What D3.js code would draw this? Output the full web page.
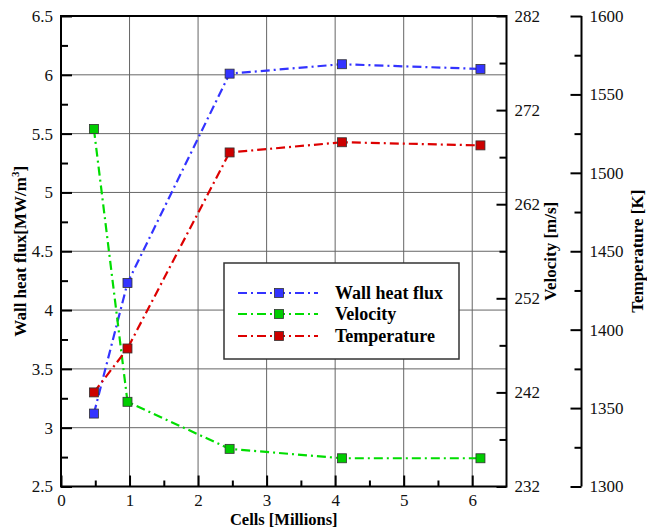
<!DOCTYPE html>
<html>
<head>
<meta charset="utf-8">
<script src="https://cdn.jsdelivr.net/npm/d3@7"></script>
<style>
  body { margin: 0; background: #fff; }
  svg text { font-family: "Liberation Serif", "Times New Roman", serif; }
</style>
</head>
<body>
<div id="chart"></div>
<script>
// values
const cells = [0.48, 0.97, 2.46, 4.10, 6.12];
const heatFlux = [3.12, 4.23, 6.01, 6.09, 6.05];
const velocity = [270.0, 241.0, 236.0, 235.0, 235.0];
const temperature = [1360, 1388, 1513, 1519.5, 1517.5];
const seriesNames = ["Wall heat flux", "Velocity", "Temperature"];
const lineColors = ["#3333ff", "#00dd00", "#dd0000"];
const markColors = ["#3333ff", "#00cc00", "#cc0000"];

const width = 647, height = 528;
const plotL = 61, plotR = 506.5, plotT = 16, plotB = 486.5;
const tempAxisX = 581.5;
const serif = "Liberation Serif, Times New Roman, serif";

const svg = d3.select("#chart").append("svg")
    .attr("width", width)
    .attr("height", height)
    .attr("font-family", serif);

const x = d3.scaleLinear().domain([0, 6.5]).range([plotL, plotR]);
const yL = d3.scaleLinear().domain([2.5, 6.5]).range([plotB, plotT]);
const yV = d3.scaleLinear().domain([232, 282]).range([plotB, plotT]);
const yT = d3.scaleLinear().domain([1300, 1600]).range([plotB, plotT]);

// grid
const grid = svg.append("g").attr("stroke", "#666").attr("stroke-width", 1);
grid.selectAll("line.gx")
    .data(d3.range(1, 7))
    .join("line")
    .attr("x1", d => x(d)).attr("x2", d => x(d))
    .attr("y1", plotT).attr("y2", plotB);
grid.selectAll("line.gy")
    .data(d3.range(3, 6.01, 0.5))
    .join("line")
    .attr("x1", plotL).attr("x2", plotR)
    .attr("y1", d => yL(d)).attr("y2", d => yL(d));

function styleAxis(g) {
    g.attr("font-family", serif).attr("font-size", 17);
    g.select(".domain").remove();
    g.selectAll(".tick line").attr("stroke", "#000").attr("stroke-width", 2);
    g.selectAll(".tick text").attr("fill", "#111");
}

const fmt = d => String(+d.toFixed(2));

// x axis
svg.append("g").attr("transform", `translate(0,${plotB})`)
    .call(d3.axisBottom(x).tickValues(d3.range(0, 6.01, 1)).tickSize(-11).tickPadding(7).tickFormat(fmt))
    .call(styleAxis);
svg.append("g").attr("transform", `translate(0,${plotB})`)
    .call(d3.axisBottom(x).tickValues(d3.range(0.5, 6.01, 1)).tickSize(-6).tickFormat(""))
    .call(styleAxis);

// left axis
svg.append("g").attr("transform", `translate(${plotL},0)`)
    .call(d3.axisLeft(yL).tickValues(d3.range(2.5, 6.51, 0.5)).tickSize(-11).tickPadding(8).tickFormat(fmt))
    .call(styleAxis);
svg.append("g").attr("transform", `translate(${plotL},0)`)
    .call(d3.axisLeft(yL).tickValues(d3.range(2.75, 6.5, 0.5)).tickSize(-7).tickFormat(""))
    .call(styleAxis);

// velocity axis (right of plot)
svg.append("g").attr("transform", `translate(${plotR},0)`)
    .call(d3.axisRight(yV).tickValues(d3.range(232, 282.1, 10)).tickSize(-10).tickPadding(8).tickFormat(fmt))
    .call(styleAxis);
svg.append("g").attr("transform", `translate(${plotR},0)`)
    .call(d3.axisRight(yV).tickValues(d3.range(237, 282, 10)).tickSize(-7).tickFormat(""))
    .call(styleAxis);

// temperature axis (offset)
svg.append("g").attr("transform", `translate(${tempAxisX},0)`)
    .call(d3.axisRight(yT).tickValues(d3.range(1300, 1600.1, 50)).tickSize(-11).tickPadding(8).tickFormat(fmt))
    .call(styleAxis);
svg.append("g").attr("transform", `translate(${tempAxisX},0)`)
    .call(d3.axisRight(yT).tickValues(d3.range(1325, 1600, 50)).tickSize(-7).tickFormat(""))
    .call(styleAxis);
svg.append("line")
    .attr("x1", tempAxisX).attr("x2", tempAxisX)
    .attr("y1", plotT).attr("y2", plotB)
    .attr("stroke", "#000").attr("stroke-width", 2);

// frame
svg.append("rect")
    .attr("x", plotL).attr("y", plotT)
    .attr("width", plotR - plotL).attr("height", plotB - plotT)
    .attr("fill", "none").attr("stroke", "#000").attr("stroke-width", 2);

// series
const series = [
    { vals: heatFlux, y: yL },
    { vals: velocity, y: yV },
    { vals: temperature, y: yT }
];
const dash = "9,4,2,4";
const plot = svg.append("g");
series.forEach((s, i) => {
    const pts = cells.map((c, j) => [x(c), s.y(s.vals[j])]);
    plot.append("path")
        .attr("d", d3.line()(pts))
        .attr("fill", "none")
        .attr("stroke", lineColors[i])
        .attr("stroke-width", 2.2)
        .attr("stroke-dasharray", dash);
});
series.forEach((s, i) => {
    plot.selectAll(null)
        .data(cells.map((c, j) => [x(c), s.y(s.vals[j])]))
        .join("rect")
        .attr("x", d => d[0] - 4.5).attr("y", d => d[1] - 4.5)
        .attr("width", 9).attr("height", 9)
        .attr("fill", markColors[i])
        .attr("stroke", "#333").attr("stroke-width", 0.8);
});

// legend
const lg = svg.append("g");
lg.append("rect")
    .attr("x", 224).attr("y", 263).attr("width", 235).attr("height", 96)
    .attr("fill", "#fff").attr("stroke", "#333").attr("stroke-width", 1.5);
const rowY = [293, 314, 336];
seriesNames.forEach((name, i) => {
    lg.append("line")
        .attr("x1", 238).attr("x2", 318)
        .attr("y1", rowY[i]).attr("y2", rowY[i])
        .attr("stroke", lineColors[i]).attr("stroke-width", 2.2)
        .attr("stroke-dasharray", dash);
    lg.append("rect")
        .attr("x", 274.5).attr("y", rowY[i] - 4.5)
        .attr("width", 9).attr("height", 9)
        .attr("fill", markColors[i]).attr("stroke", "#333").attr("stroke-width", 0.8);
    lg.append("text")
        .attr("x", 335).attr("y", rowY[i] + 6)
        .attr("font-size", 18).attr("font-weight", "bold")
        .text(name);
});

// axis titles
svg.append("text")
    .attr("x", (plotL + plotR) / 2).attr("y", 525)
    .attr("text-anchor", "middle")
    .attr("font-size", 16.5).attr("font-weight", "bold")
    .text("Cells [Millions]");

const lt = svg.append("text")
    .attr("transform", `translate(26,${(plotT + plotB) / 2}) rotate(-90)`)
    .attr("text-anchor", "middle")
    .attr("font-size", 17).attr("font-weight", "bold");
lt.append("tspan").text("Wall heat flux[MW/m");
lt.append("tspan").attr("dy", -7).attr("font-size", 11).text("3");
lt.append("tspan").attr("dy", 7).text("]");

svg.append("text")
    .attr("transform", `translate(556,${(plotT + plotB) / 2}) rotate(-90)`)
    .attr("text-anchor", "middle")
    .attr("font-size", 17).attr("font-weight", "bold")
    .text("Velocity [m/s]");

svg.append("text")
    .attr("transform", `translate(643,${(plotT + plotB) / 2}) rotate(-90)`)
    .attr("text-anchor", "middle")
    .attr("font-size", 17).attr("font-weight", "bold")
    .text("Temperature [K]");
</script>
</body>
</html>
